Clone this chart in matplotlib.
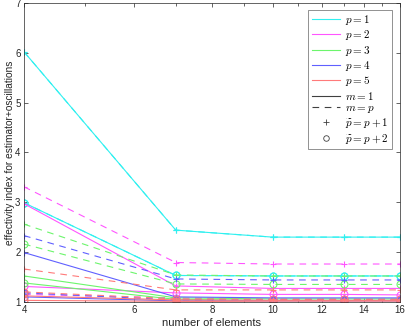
import numpy as np
import matplotlib
matplotlib.use("Agg")
import matplotlib.pyplot as plt
from matplotlib.lines import Line2D
from matplotlib.ticker import FixedLocator, NullFormatter

plt.rcParams['font.family'] = ['Liberation Sans', 'DejaVu Sans']
plt.rcParams['mathtext.fontset'] = 'cm'

# number of elements
elems = [4, 7, 10, 13, 16]

# p = 1 (m=1 and m=p coincide)
p1_plus = [6.02, 2.44, 2.30, 2.30, 2.30]
p1_circ = [2.99, 1.53, 1.52, 1.52, 1.52]
# p = 2
p2_m1_plus = [2.97, 1.32, 1.27, 1.27, 1.27]
p2_mp_plus = [3.31, 1.79, 1.76, 1.76, 1.76]
p2_m1_circ = [1.31, 1.18, 1.15, 1.15, 1.14]
p2_mp_circ = [1.15, 1.08, 1.06, 1.06, 1.06]
# p = 3
p3_m1_plus = [1.52, 1.08, 1.06, 1.06, 1.06]
p3_mp_plus = [2.56, 1.54, 1.52, 1.52, 1.52]
p3_m1_circ = [1.38, 1.05, 1.03, 1.03, 1.03]
p3_mp_circ = [2.16, 1.36, 1.35, 1.35, 1.35]
# p = 4
p4_m1_plus = [1.99, 1.10, 1.08, 1.08, 1.08]
p4_mp_plus = [2.33, 1.46, 1.44, 1.44, 1.44]
p4_m1_circ = [1.10, 1.02, 1.02, 1.02, 1.02]
p4_mp_circ = [1.18, 1.04, 1.04, 1.04, 1.04]
# p = 5
p5_m1_plus = [1.12, 1.04, 1.03, 1.03, 1.03]
p5_mp_plus = [1.66, 1.24, 1.24, 1.24, 1.24]
p5_m1_circ = [1.03, 1.01, 1.00, 1.00, 1.00]
p5_mp_circ = [1.20, 1.06, 1.05, 1.05, 1.05]

cols = {1: '#30f0f0', 2: '#ff55ff', 3: '#6cf56c', 4: '#6060ff', 5: '#ff7a7a'}

series = [
    (1, '-', '+', p1_plus), (1, '--', '+', p1_plus),
    (1, '-', 'o', p1_circ), (1, '--', 'o', p1_circ),
    (2, '-', '+', p2_m1_plus), (2, '--', '+', p2_mp_plus),
    (2, '-', 'o', p2_m1_circ), (2, '--', 'o', p2_mp_circ),
    (3, '-', '+', p3_m1_plus), (3, '--', '+', p3_mp_plus),
    (3, '-', 'o', p3_m1_circ), (3, '--', 'o', p3_mp_circ),
    (4, '-', '+', p4_m1_plus), (4, '--', '+', p4_mp_plus),
    (4, '-', 'o', p4_m1_circ), (4, '--', 'o', p4_mp_circ),
    (5, '-', '+', p5_m1_plus), (5, '--', '+', p5_mp_plus),
    (5, '-', 'o', p5_m1_circ), (5, '--', 'o', p5_mp_circ),
]

fig = plt.figure(figsize=(4.07, 3.31), dpi=100)
ax = fig.add_axes([24 / 407, 0.088, 376 / 407, 0.903])

for p, ls, mk, vals in series:
    ax.plot(elems, vals, color=cols[p], ls=ls, marker=mk, lw=0.8,
            ms=5, mfc='none', mew=0.8,
            dashes=(6, 5) if ls == '--' else (None, None))

ax.set_xscale('log')
ax.set_xlim(4, 16)
ax.set_ylim(1, 7)
ax.xaxis.set_major_locator(FixedLocator([4, 6, 8, 10, 12, 14, 16]))
ax.xaxis.set_minor_locator(FixedLocator([5, 7, 9, 11, 13, 15]))
ax.xaxis.set_minor_formatter(NullFormatter())
ax.set_xticklabels(['4', '6', '8', '10', '12', '14', '16'])
ax.set_yticks([1, 2, 3, 4, 5, 6, 7])

ax.tick_params(which='both', direction='in', top=True, right=True,
               labelsize=7, colors='#262626', width=0.5)
ax.tick_params(which='major', length=3, pad=2.5)
ax.tick_params(which='minor', length=1.8)
for s in ax.spines.values():
    s.set_linewidth(0.5)
    s.set_color('#262626')

ax.set_xlabel('number of elements', fontsize=8, color='#262626', labelpad=2)
ax.set_ylabel('effectivity index for estimator+oscillations', fontsize=7.3,
              color='#262626', va='center')
ax.yaxis.set_label_coords(-0.038, 0.5)

handles = [Line2D([], [], color=cols[p], lw=0.8) for p in range(1, 6)]
handles += [Line2D([], [], color='#404040', lw=0.8),
            Line2D([], [], color='#404040', lw=0.8, ls='--', dashes=(6, 5)),
            Line2D([], [], color='#404040', lw=0, marker='+', ms=4, mew=0.6),
            Line2D([], [], color='#404040', lw=0, marker='o', ms=4, mfc='none', mew=0.6)]
labels = [r'$p=%d$' % p for p in range(1, 6)]
labels += [r'$m=1$', r'$m=p$', r'$\widetilde{p}=p+1$', r'$\widetilde{p}=p+2$']
leg = ax.legend(handles, labels, loc='upper right', fontsize=8, frameon=True,
                fancybox=False, edgecolor='#404040', handlelength=2.6,
                handletextpad=0.4, borderpad=0.3, labelspacing=0.12,
                borderaxespad=0, bbox_to_anchor=(0.978, 0.978))
leg.get_frame().set_linewidth(0.5)

fig.savefig('out.png', dpi=100)
